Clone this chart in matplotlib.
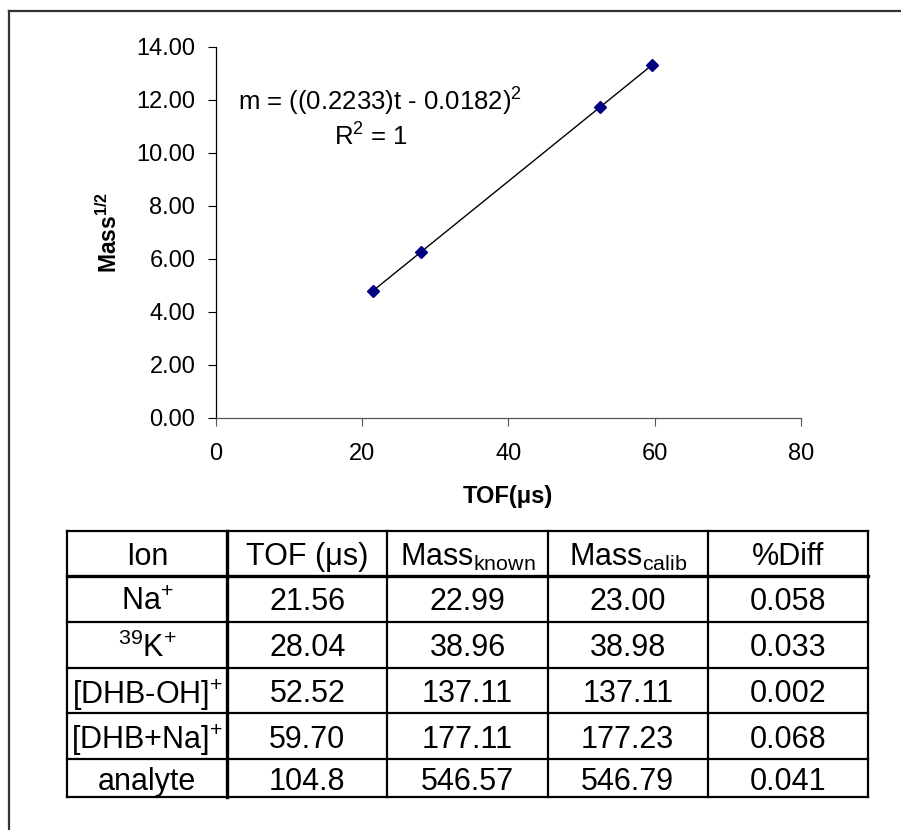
import numpy as np
import matplotlib.pyplot as plt
from matplotlib.lines import Line2D
from matplotlib.ticker import FormatStrFormatter

plt.rcParams['font.family'] = ['Liberation Sans', 'DejaVu Sans']
plt.rcParams['mathtext.fontset'] = 'custom'
plt.rcParams['mathtext.rm'] = 'Liberation Sans'
plt.rcParams['mathtext.it'] = 'Liberation Sans:italic'
plt.rcParams['mathtext.bf'] = 'Liberation Sans:bold'
plt.rcParams['mathtext.default'] = 'regular'

# calibration points
tof = [21.56, 28.04, 52.52, 59.70]
sqrt_mass = [4.79, 6.24, 11.71, 13.31]

# table contents
headers = ['Ion', 'TOF (μs)', 'Mass$_{known}$', 'Mass$_{calib}$', '%Diff']
ions = ['Na$^{+}$', '$^{39}$K$^{+}$', '[DHB-OH]$^{+}$', '[DHB+Na]$^{+}$', 'analyte']
tof_col = ['21.56', '28.04', '52.52', '59.70', '104.8']
mass_known = ['22.99', '38.96', '137.11', '177.11', '546.57']
mass_calib = ['23.00', '38.98', '137.11', '177.23', '546.79']
pct_diff = ['0.058', '0.033', '0.002', '0.068', '0.041']

W, H = 901, 830
fig = plt.figure(figsize=(W / 100, H / 100), dpi=100)

# outer frame (left and top edges only visible)
fig.add_artist(Line2D([8.5 / W, 8.5 / W], [0, 1 - 11.5 / H], transform=fig.transFigure,
                      color='#333333', lw=1.6))
fig.add_artist(Line2D([8.5 / W, 1], [1 - 11.5 / H, 1 - 11.5 / H], transform=fig.transFigure,
                      color='#333333', lw=1.6))

# --- scatter chart ---
ax = fig.add_axes([215.5 / W, 1 - 417.5 / H, 585.5 / W, 371 / H])
coef = np.polyfit(tof, sqrt_mass, 1)
xs = np.array([min(tof), max(tof)])
ax.plot(xs, np.polyval(coef, xs), color='black', lw=1.0, zorder=2)
ax.plot(tof, sqrt_mass, linestyle='none', marker='D', markersize=6.3,
        color='#000080', zorder=3)

ax.set_xlim(0, 80)
ax.set_ylim(0, 14)
ax.set_xticks(np.arange(0, 81, 20))
ax.set_yticks(np.arange(0, 14.1, 2))
ax.yaxis.set_major_formatter(FormatStrFormatter('%.2f'))
for s in ['top', 'right']:
    ax.spines[s].set_visible(False)
ax.spines['left'].set_color('black')
ax.spines['bottom'].set_color('#555555')
ax.spines['left'].set_linewidth(0.9)
ax.spines['bottom'].set_linewidth(0.9)
ax.tick_params(axis='y', direction='out', length=5.5, width=0.8, pad=9, labelsize=17)
ax.tick_params(axis='x', direction='out', length=5.5, width=0.8, pad=13, labelsize=17,
               color='#555555')

ax.set_xlabel('TOF(μs)', fontsize=17, fontweight='bold', labelpad=14)
ax.set_ylabel('Mass$^{1/2}$', fontsize=16.5, fontweight='bold', labelpad=10)

ax.text(0.038, 0.826, 'm = ((0.2233)t - 0.0182)$^{2}$', transform=ax.transAxes,
        fontsize=18.5, ha='left', va='baseline')
ax.text(0.266, 0.734, 'R$^{2}$ = 1', transform=ax.transAxes,
        fontsize=18.5, ha='center', va='baseline')

# --- table ---
tab = fig.add_axes([67 / W, 1 - 797 / H, 801 / W, 266 / H])
tab.set_xlim(0, 5)
tab.set_ylim(266, 0)
tab.axis('off')

row_edges = [0, 45, 91, 136.5, 182, 228, 266]
for i, y in enumerate(row_edges):
    lw = 2.4 if i == 1 else 1.6
    tab.plot([0, 5], [y, y], color='black', lw=lw, clip_on=False, solid_capstyle='projecting')
for j in range(6):
    lw = 2.4 if j == 1 else 1.6
    tab.plot([j, j], [0, 266], color='black', lw=lw, clip_on=False, solid_capstyle='projecting')

columns = [ions, tof_col, mass_known, mass_calib, pct_diff]
for j, head in enumerate(headers):
    yc = (row_edges[0] + row_edges[1]) / 2
    tab.text(j + 0.5, yc, head, fontsize=22, ha='center', va='center_baseline')
for j, col in enumerate(columns):
    for i, val in enumerate(col):
        yc = (row_edges[i + 1] + row_edges[i + 2]) / 2
        tab.text(j + 0.5, yc, val, fontsize=22, ha='center', va='center_baseline')

fig.savefig('out.png', dpi=100)
